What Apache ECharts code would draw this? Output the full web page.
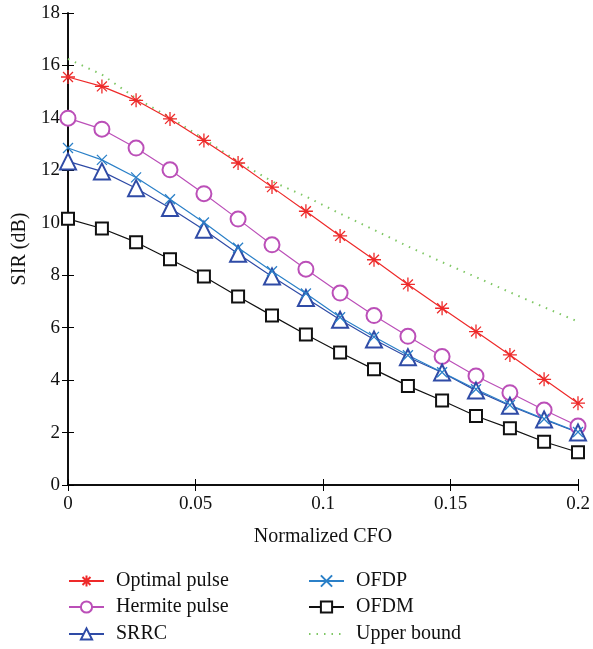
<!DOCTYPE html>
<html>
<head>
<meta charset="utf-8">
<script src="https://cdn.jsdelivr.net/npm/echarts@6/dist/echarts.min.js"></script>
<style>
  html, body { margin: 0; padding: 0; background: #fff; }
  #main { width: 593px; height: 649px; }
</style>
</head>
<body>
<div id="main"></div>
<script>
var cfo = [0, 0.0133, 0.0267, 0.04, 0.0533, 0.0667, 0.08, 0.0933, 0.1067, 0.12, 0.1333, 0.1467, 0.16, 0.1733, 0.1867, 0.2];
var optimalPulse = [15.56, 15.2, 14.67, 13.96, 13.14, 12.28, 11.36, 10.44, 9.5, 8.59, 7.65, 6.74, 5.85, 4.96, 4.03, 3.12];
var hermitePulse = [13.99, 13.57, 12.85, 12.02, 11.11, 10.14, 9.16, 8.23, 7.32, 6.46, 5.67, 4.9, 4.16, 3.52, 2.86, 2.25];
var srrc = [12.34, 11.96, 11.32, 10.56, 9.73, 8.82, 7.95, 7.13, 6.3, 5.55, 4.87, 4.29, 3.6, 3.02, 2.5, 2.0];
var ofdp = [12.85, 12.4, 11.73, 10.9, 10.01, 9.05, 8.15, 7.3, 6.4, 5.65, 4.95, 4.3, 3.65, 3.05, 2.52, 2.02];
var ofdm = [10.15, 9.78, 9.26, 8.61, 7.95, 7.19, 6.46, 5.74, 5.05, 4.41, 3.78, 3.22, 2.63, 2.16, 1.65, 1.25];
var upperBound = [16.25, 15.65, 14.75, 14.02, 13.2, 12.33, 11.58, 11.0, 10.35, 9.73, 9.1, 8.5, 7.93, 7.35, 6.78, 6.23];

function pairs(ys) {
  return cfo.map(function (x, i) { return [x, ys[i]]; });
}

var fontFam = '"Liberation Serif", "DejaVu Serif", serif';
var asterisk = 'path://M10,0L10,20M0,10L20,10M2.9,2.9L17.1,17.1M17.1,2.9L2.9,17.1';
var cross = 'path://M0,0L20,20M20,0L0,20';

var chartDom = document.getElementById('main');
var myChart = echarts.init(chartDom);
var option;

function lineSeries(name, ys, color, symbol, size) {
  return {
    name: name,
    type: 'line',
    data: pairs(ys),
    symbol: symbol,
    symbolSize: size,
    lineStyle: { color: color, width: 1.2 },
    itemStyle: { color: color, borderColor: color, borderWidth: 1.3 },
    emphasis: { disabled: true },
    z: 3
  };
}

// one legend per entry so the two columns sit exactly where they should
function legendItem(name, left, centerY, extra) {
  var item = { name: name };
  if (extra) Object.assign(item, extra);
  return {
    left: left, top: centerY - 11, padding: 0,
    itemWidth: 35, itemHeight: 14,
    selectedMode: false,
    textStyle: { fontFamily: fontFam, fontSize: 20, color: '#111', padding: [0, 0, 0, 7] },
    data: [item]
  };
}

option = {
  animation: false,
  textStyle: { fontFamily: fontFam },
  grid: { left: 68, right: 15, top: 13, bottom: 164 },
  legend: [
    legendItem('Optimal pulse', 68, 582),
    legendItem('Hermite pulse', 68, 608),
    legendItem('SRRC', 68, 635),
    legendItem('OFDP', 308, 582),
    legendItem('OFDM', 308, 608),
    legendItem('Upper bound', 308, 635, { itemStyle: { opacity: 0 } })
  ],
  xAxis: [
    {
      type: 'value', min: 0, max: 0.2, interval: 0.05,
      name: 'Normalized CFO', nameLocation: 'middle', nameGap: 42,
      nameTextStyle: { fontFamily: fontFam, fontSize: 20, color: '#111' },
      axisLine: { lineStyle: { color: '#000', width: 1.5 } },
      axisTick: { inside: true, length: 6, lineStyle: { color: '#000' } },
      axisLabel: { fontFamily: fontFam, fontSize: 19, color: '#111', margin: 10 },
      splitLine: { show: false }
    },
    {
      type: 'value', min: 0, max: 0.2, interval: 0.05, position: 'top',
      axisLine: { show: true, lineStyle: { color: '#000', width: 1.5 } },
      axisTick: { inside: true, length: 6, lineStyle: { color: '#000' } },
      axisLabel: { show: false },
      splitLine: { show: false }
    }
  ],
  yAxis: [
    {
      type: 'value', min: 0, max: 18, interval: 2,
      name: 'SIR (dB)', nameLocation: 'middle', nameGap: 36,
      nameTextStyle: { fontFamily: fontFam, fontSize: 20, color: '#111' },
      axisLine: { show: true, lineStyle: { color: '#000', width: 1.5 } },
      axisTick: { show: true, inside: true, length: 6, lineStyle: { color: '#000' } },
      axisLabel: { fontFamily: fontFam, fontSize: 19, color: '#111', margin: 8 },
      splitLine: { show: false }
    },
    {
      type: 'value', min: 0, max: 18, interval: 2, position: 'right',
      axisLine: { show: true, lineStyle: { color: '#000', width: 1.5 } },
      axisTick: { show: true, inside: true, length: 6, lineStyle: { color: '#000' } },
      axisLabel: { show: false },
      splitLine: { show: false }
    }
  ],
  series: [
    lineSeries('Optimal pulse', optimalPulse, '#ee2a2a', asterisk, 14),
    lineSeries('Hermite pulse', hermitePulse, '#bb4fb8', 'emptyCircle', 15),
    lineSeries('SRRC', srrc, '#2f4ba6', 'emptyTriangle', 16),
    lineSeries('OFDP', ofdp, '#2b80c8', cross, 10),
    lineSeries('OFDM', ofdm, '#111111', 'emptyRect', 12),
    {
      name: 'Upper bound',
      type: 'line',
      data: pairs(upperBound),
      symbol: 'circle',
      showSymbol: false,
      lineStyle: { color: '#7fc765', width: 2, type: [1.5, 6] },
      itemStyle: { color: '#7fc765', opacity: 0 },
      emphasis: { disabled: true },
      z: 2
    }
  ]
};

option && myChart.setOption(option);
</script>
</body>
</html>
